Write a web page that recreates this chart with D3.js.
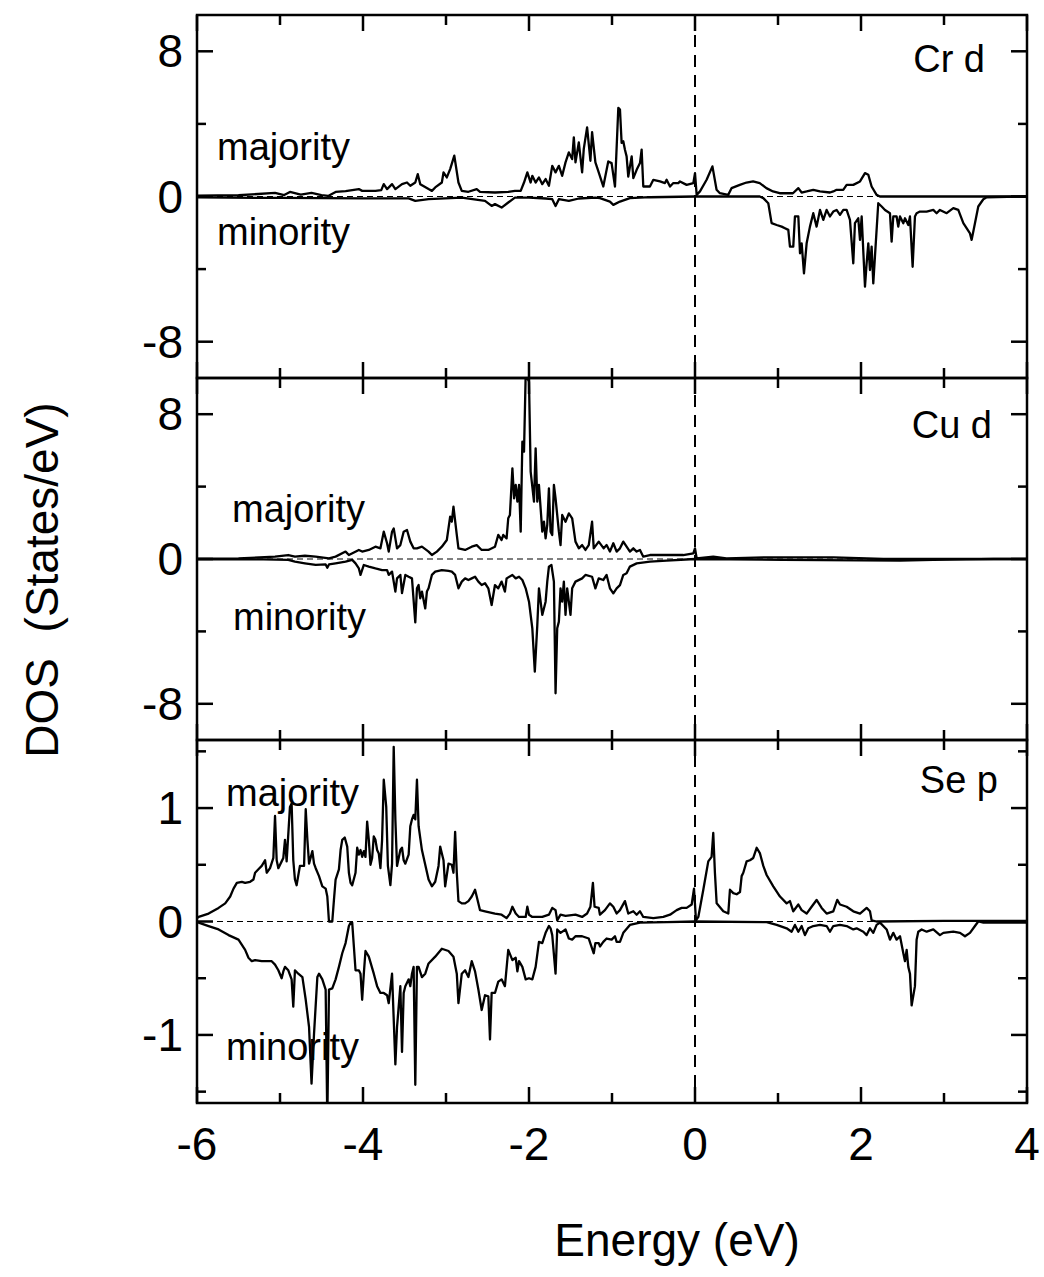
<!DOCTYPE html>
<html><head><meta charset="utf-8">
<script src="https://cdn.jsdelivr.net/npm/d3@7/dist/d3.min.js"></script>
<style>
html,body{margin:0;padding:0;background:#fff;}
text{font-family:"Liberation Sans",Arial,Helvetica,sans-serif;fill:#000;}
</style></head>
<body>
<svg id="chart" width="1044" height="1277"></svg>
<script>
// ---------- DATA (Energy in eV, DOS in States/eV) ----------
const xTicks = [-6,-5,-4,-3,-2,-1,0,1,2,3,4];
const xTickLabels = ["-6","-4","-2","0","2","4"];
const panelNames = ["Cr d","Cu d","Se p"];
const yDomains = [[-10,10],[-10,10],[-1.6,1.6]];
const yTicksDM = [-8,-4,0,4,8];
const yLabelsDM = ["-8","0","8"];
const yTicksSe = [-1.5,-1,-0.5,0,0.5,1,1.5];
const yLabelsSe = ["-1","0","1"];

const crMaj = [[-6.0,0.05],[-5.5,0.07],[-5.06,0.2],[-4.95,0.08],[-4.88,0.25],[-4.75,0.1],[-4.62,0.2],[-4.5,0.08],[-4.42,0.03],[-4.33,0.25],[-4.21,0.3],[-4.05,0.41],[-4.01,0.31],[-3.85,0.31],[-3.78,0.35],[-3.75,0.68],[-3.71,0.41],[-3.65,0.68],[-3.61,0.41],[-3.53,0.68],[-3.47,0.77],[-3.43,0.59],[-3.37,0.77],[-3.34,1.23],[-3.31,0.68],[-3.21,0.41],[-3.17,0.31],[-3.13,0.5],[-3.05,0.77],[-3.03,1.33],[-2.99,1.05],[-2.95,1.51],[-2.90,2.25],[-2.85,0.77],[-2.81,0.31],[-2.73,0.26],[-2.63,0.41],[-2.59,0.26],[-2.41,0.22],[-2.25,0.26],[-2.17,0.31],[-2.10,0.31],[-2.06,0.77],[-2.02,1.33],[-1.98,0.77],[-1.96,1.14],[-1.92,0.77],[-1.88,1.05],[-1.84,0.68],[-1.80,0.96],[-1.76,0.59],[-1.72,1.69],[-1.68,1.33],[-1.64,1.69],[-1.60,1.14],[-1.56,1.88],[-1.52,2.43],[-1.48,2.06],[-1.46,3.26],[-1.44,1.88],[-1.40,2.98],[-1.36,1.33],[-1.34,2.62],[-1.30,3.81],[-1.26,1.97],[-1.24,3.54],[-1.20,1.88],[-1.16,1.33],[-1.12,0.77],[-1.105,0.55],[-1.045,1.93],[-1.005,1.84],[-0.964,0.55],[-0.924,4.88],[-0.904,4.79],[-0.884,2.95],[-0.864,3.04],[-0.844,2.58],[-0.824,2.21],[-0.804,1.10],[-0.763,2.21],[-0.743,1.01],[-0.703,1.47],[-0.663,1.84],[-0.643,2.58],[-0.623,0.55],[-0.543,0.55],[-0.502,0.92],[-0.422,0.83],[-0.362,0.74],[-0.342,0.92],[-0.301,0.55],[-0.261,0.74],[-0.201,0.74],[-0.181,0.83],[-0.101,0.64],[-0.02,0.74],[0.0,1.29],[0.02,0.09],[0.06,0.28],[0.14,0.92],[0.21,1.66],[0.26,0.37],[0.30,0.18],[0.40,0.09],[0.44,0.46],[0.54,0.64],[0.62,0.77],[0.70,0.83],[0.78,0.74],[0.86,0.46],[0.94,0.28],[1.02,0.18],[1.18,0.18],[1.245,0.46],[1.285,0.22],[1.345,0.28],[1.425,0.37],[1.505,0.28],[1.626,0.22],[1.666,0.28],[1.706,0.37],[1.786,0.37],[1.827,0.64],[1.907,0.64],[1.988,0.83],[2.048,1.29],[2.088,1.20],[2.128,0.55],[2.188,0.09],[2.228,0.0],[4.0,0.0]];

const crMin = [[-6.0,-0.05],[-5.0,-0.08],[-4.0,-0.1],[-3.45,-0.1],[-3.37,-0.24],[-3.21,-0.15],[-2.81,-0.06],[-2.53,-0.24],[-2.45,-0.52],[-2.41,-0.42],[-2.33,-0.61],[-2.25,-0.33],[-2.17,-0.06],[-2.00,-0.06],[-1.80,-0.11],[-1.72,-0.15],[-1.68,-0.52],[-1.64,-0.15],[-1.52,-0.24],[-1.40,-0.11],[-1.20,-0.06],[-1.145,-0.09],[-1.025,-0.28],[-0.984,-0.46],[-0.904,-0.28],[-0.784,-0.09],[-0.543,-0.04],[0,0],[0.78,0],[0.823,-0.09],[0.883,-0.37],[0.923,-1.47],[0.984,-1.57],[1.044,-1.66],[1.084,-1.75],[1.124,-1.84],[1.144,-2.76],[1.184,-2.76],[1.204,-1.10],[1.245,-1.10],[1.265,-3.13],[1.285,-2.58],[1.313,-4.24],[1.345,-2.58],[1.385,-1.66],[1.425,-0.92],[1.465,-1.66],[1.506,-0.74],[1.546,-1.29],[1.586,-0.74],[1.626,-1.10],[1.666,-0.83],[1.706,-0.74],[1.747,-1.01],[1.787,-0.74],[1.827,-0.74],[1.867,-1.29],[1.907,-3.68],[1.927,-1.47],[1.967,-1.20],[1.988,-2.39],[2.008,-1.10],[2.048,-4.97],[2.068,-3.68],[2.088,-2.58],[2.108,-4.05],[2.128,-2.76],[2.148,-4.79],[2.168,-3.31],[2.208,-0.37],[2.249,-0.55],[2.289,-0.74],[2.349,-0.92],[2.369,-2.49],[2.389,-1.10],[2.429,-1.10],[2.449,-1.66],[2.470,-1.10],[2.510,-1.47],[2.530,-1.20],[2.570,-1.57],[2.590,-1.10],[2.622,-3.87],[2.650,-1.10],[2.670,-0.92],[2.710,-0.83],[2.791,-0.83],[2.871,-0.74],[2.911,-0.92],[2.951,-0.74],[3.032,-0.92],[3.112,-0.64],[3.172,-0.74],[3.233,-1.47],[3.313,-2.03],[3.333,-2.39],[3.373,-1.47],[3.413,-0.55],[3.474,-0.15],[3.514,-0.04],[4.0,0]];

const cuMaj = [[-6.0,0.02],[-5.5,0.03],[-5.06,0.13],[-4.90,0.22],[-4.82,0.13],[-4.70,0.18],[-4.57,0.13],[-4.41,0.04],[-4.33,0.13],[-4.21,0.41],[-4.17,0.22],[-4.05,0.50],[-4.01,0.41],[-3.93,0.50],[-3.85,0.68],[-3.79,0.59],[-3.75,1.51],[-3.71,0.87],[-3.69,0.41],[-3.65,1.51],[-3.63,1.69],[-3.59,0.59],[-3.55,0.77],[-3.51,1.51],[-3.47,1.60],[-3.43,0.96],[-3.39,0.59],[-3.35,0.59],[-3.29,0.68],[-3.21,0.41],[-3.17,0.22],[-3.11,0.41],[-3.05,0.68],[-2.99,1.05],[-2.95,2.34],[-2.93,2.06],[-2.91,2.89],[-2.87,1.33],[-2.85,0.59],[-2.77,0.50],[-2.69,0.68],[-2.63,0.77],[-2.57,0.50],[-2.49,0.50],[-2.41,0.68],[-2.37,1.33],[-2.33,1.05],[-2.31,1.33],[-2.27,1.14],[-2.25,2.25],[-2.23,2.43],[-2.20,5.01],[-2.18,3.35],[-2.16,4.09],[-2.14,3.17],[-2.12,4.09],[-2.10,1.51],[-2.08,6.48],[-2.06,5.93],[-2.04,10.2],[-2.00,9.8],[-1.98,4.83],[-1.94,3.17],[-1.92,6.11],[-1.90,3.17],[-1.88,4.09],[-1.84,1.51],[-1.82,2.06],[-1.80,1.14],[-1.78,1.88],[-1.76,3.90],[-1.74,1.51],[-1.72,1.33],[-1.70,4.09],[-1.68,3.35],[-1.64,1.51],[-1.62,0.77],[-1.60,2.43],[-1.56,2.06],[-1.52,2.52],[-1.48,2.25],[-1.44,0.96],[-1.40,0.59],[-1.36,0.77],[-1.32,0.50],[-1.28,0.77],[-1.24,2.06],[-1.22,0.59],[-1.16,0.96],[-1.10,0.59],[-1.065,0.77],[-1.025,0.41],[-0.984,0.87],[-0.944,0.41],[-0.904,0.59],[-0.864,0.96],[-0.824,0.68],[-0.784,0.41],[-0.743,0.59],[-0.703,0.41],[-0.663,0.50],[-0.623,0.13],[-0.543,0.22],[-0.342,0.22],[-0.141,0.22],[-0.02,0.31],[0.0,0.59],[0.02,0.04],[0.22,0.13],[0.38,0.04],[0.86,0.09],[1.67,0.09],[2.27,0.0],[4.0,0.0]];

const cuMin = [[-6.0,-0.02],[-5.2,-0.02],[-4.90,-0.05],[-4.82,-0.15],[-4.70,-0.24],[-4.57,-0.33],[-4.45,-0.30],[-4.43,-0.48],[-4.41,-0.30],[-4.33,-0.24],[-4.21,-0.15],[-4.13,-0.05],[-4.09,-0.24],[-4.05,-0.52],[-4.03,-0.88],[-3.99,-0.33],[-3.93,-0.42],[-3.85,-0.52],[-3.77,-0.61],[-3.71,-0.61],[-3.69,-0.88],[-3.65,-0.70],[-3.61,-1.80],[-3.59,-1.07],[-3.55,-0.88],[-3.53,-1.88],[-3.49,-0.88],[-3.45,-0.98],[-3.41,-1.07],[-3.37,-3.50],[-3.35,-1.62],[-3.33,-1.44],[-3.31,-2.17],[-3.29,-1.80],[-3.25,-2.73],[-3.23,-1.80],[-3.21,-1.62],[-3.17,-0.88],[-3.13,-0.70],[-3.05,-0.61],[-2.97,-0.66],[-2.93,-0.70],[-2.89,-0.88],[-2.85,-1.62],[-2.81,-1.25],[-2.77,-1.07],[-2.73,-1.16],[-2.69,-1.07],[-2.65,-0.98],[-2.61,-1.25],[-2.57,-1.44],[-2.53,-1.34],[-2.49,-1.62],[-2.45,-2.54],[-2.41,-1.44],[-2.37,-1.62],[-2.33,-1.25],[-2.29,-1.80],[-2.27,-1.07],[-2.20,-0.88],[-2.16,-1.07],[-2.12,-0.98],[-2.08,-1.16],[-2.04,-1.62],[-2.00,-2.36],[-1.96,-3.83],[-1.93,-6.22],[-1.90,-3.65],[-1.88,-1.62],[-1.84,-3.09],[-1.80,-2.36],[-1.78,-1.25],[-1.76,-0.42],[-1.73,-0.33],[-1.70,-1.25],[-1.68,-7.42],[-1.66,-3.83],[-1.64,-3.46],[-1.62,-1.62],[-1.60,-2.36],[-1.58,-1.25],[-1.56,-3.09],[-1.54,-1.62],[-1.50,-3.09],[-1.48,-1.62],[-1.44,-1.25],[-1.36,-1.07],[-1.32,-0.88],[-1.24,-0.98],[-1.20,-1.62],[-1.16,-1.07],[-1.105,-1.16],[-1.065,-0.88],[-1.025,-1.62],[-0.984,-1.90],[-0.944,-1.62],[-0.904,-1.44],[-0.864,-0.88],[-0.824,-0.79],[-0.784,-0.42],[-0.703,-0.24],[-0.543,-0.15],[-0.342,-0.09],[0,0],[1.06,-0.05],[2.47,-0.09],[2.87,-0.05],[3.27,-0.02],[3.6,0],[4.0,0]];

const seMaj = [[-6.0,0.03],[-5.98,0.04],[-5.86,0.07],[-5.74,0.12],[-5.66,0.16],[-5.60,0.22],[-5.56,0.29],[-5.52,0.34],[-5.46,0.35],[-5.42,0.34],[-5.36,0.35],[-5.32,0.37],[-5.30,0.43],[-5.26,0.46],[-5.22,0.49],[-5.18,0.54],[-5.16,0.43],[-5.12,0.47],[-5.08,0.56],[-5.06,0.93],[-5.04,0.54],[-5.02,0.47],[-4.98,0.53],[-4.96,0.56],[-4.94,0.72],[-4.92,0.53],[-4.88,1.01],[-4.86,1.04],[-4.84,0.54],[-4.82,0.37],[-4.80,0.32],[-4.76,0.49],[-4.71,0.49],[-4.69,0.99],[-4.67,0.72],[-4.65,0.51],[-4.61,0.62],[-4.59,0.51],[-4.57,0.47],[-4.53,0.40],[-4.49,0.31],[-4.45,0.29],[-4.43,0.22],[-4.41,0.0],[-4.37,0.0],[-4.35,0.19],[-4.33,0.37],[-4.29,0.46],[-4.27,0.63],[-4.25,0.72],[-4.22,0.74],[-4.19,0.66],[-4.17,0.43],[-4.15,0.34],[-4.13,0.32],[-4.09,0.43],[-4.07,0.65],[-4.05,0.59],[-4.03,0.63],[-4.01,0.57],[-3.99,0.62],[-3.97,0.57],[-3.95,0.88],[-3.93,0.72],[-3.91,0.50],[-3.89,0.56],[-3.87,0.75],[-3.85,0.72],[-3.83,0.63],[-3.81,0.60],[-3.79,0.47],[-3.77,0.72],[-3.75,1.25],[-3.72,1.01],[-3.70,0.49],[-3.67,0.32],[-3.65,0.51],[-3.63,1.54],[-3.61,0.90],[-3.59,0.49],[-3.55,0.63],[-3.53,0.65],[-3.51,0.54],[-3.49,0.51],[-3.45,0.59],[-3.43,0.84],[-3.41,0.90],[-3.39,0.94],[-3.37,0.90],[-3.35,1.25],[-3.33,0.84],[-3.29,0.63],[-3.25,0.50],[-3.21,0.37],[-3.17,0.31],[-3.13,0.35],[-3.09,0.49],[-3.07,0.66],[-3.05,0.60],[-3.03,0.54],[-3.01,0.31],[-2.97,0.51],[-2.93,0.50],[-2.91,0.43],[-2.89,0.79],[-2.87,0.43],[-2.85,0.18],[-2.81,0.16],[-2.77,0.16],[-2.73,0.18],[-2.69,0.22],[-2.67,0.25],[-2.65,0.28],[-2.63,0.22],[-2.59,0.10],[-2.53,0.09],[-2.41,0.07],[-2.33,0.06],[-2.27,0.03],[-2.23,0.07],[-2.20,0.13],[-2.16,0.07],[-2.12,0.04],[-2.04,0.04],[-2.02,0.13],[-2.00,0.06],[-1.96,0.04],[-1.84,0.04],[-1.76,0.06],[-1.72,0.12],[-1.68,0.10],[-1.66,0.01],[-1.62,0.06],[-1.56,0.05],[-1.44,0.06],[-1.36,0.04],[-1.30,0.07],[-1.26,0.13],[-1.23,0.34],[-1.21,0.13],[-1.16,0.12],[-1.145,0.06],[-1.085,0.10],[-1.025,0.16],[-0.984,0.13],[-0.944,0.07],[-0.904,0.10],[-0.844,0.18],[-0.804,0.07],[-0.743,0.09],[-0.703,0.06],[-0.663,0.09],[-0.623,0.04],[-0.502,0.03],[-0.382,0.04],[-0.301,0.06],[-0.221,0.10],[-0.161,0.12],[-0.101,0.12],[-0.040,0.15],[-0.012,0.29],[0.012,0.01],[0.040,0.04],[0.100,0.28],[0.160,0.53],[0.200,0.57],[0.220,0.78],[0.240,0.43],[0.261,0.16],[0.341,0.09],[0.401,0.07],[0.421,0.28],[0.461,0.25],[0.502,0.24],[0.542,0.26],[0.562,0.40],[0.582,0.43],[0.622,0.53],[0.662,0.54],[0.702,0.56],[0.743,0.65],[0.783,0.60],[0.823,0.49],[0.863,0.41],[0.943,0.31],[1.024,0.22],[1.104,0.16],[1.144,0.18],[1.184,0.09],[1.245,0.15],[1.285,0.10],[1.345,0.07],[1.405,0.13],[1.465,0.19],[1.526,0.12],[1.586,0.07],[1.666,0.09],[1.714,0.19],[1.747,0.15],[1.827,0.13],[1.907,0.09],[1.988,0.07],[2.068,0.12],[2.108,0.09],[2.128,0.01],[2.188,0.0],[3.0,0.005],[4.0,0.005]];

const seMin = [[-6.0,-0.005],[-5.98,-0.01],[-5.86,-0.04],[-5.74,-0.07],[-5.62,-0.12],[-5.50,-0.16],[-5.42,-0.25],[-5.38,-0.32],[-5.34,-0.35],[-5.30,-0.34],[-5.22,-0.35],[-5.10,-0.35],[-5.06,-0.38],[-5.02,-0.43],[-4.98,-0.50],[-4.96,-0.44],[-4.94,-0.40],[-4.90,-0.43],[-4.86,-0.51],[-4.84,-0.75],[-4.82,-0.43],[-4.78,-0.46],[-4.73,-0.49],[-4.69,-0.69],[-4.65,-0.93],[-4.62,-1.43],[-4.59,-0.99],[-4.55,-0.49],[-4.53,-0.46],[-4.49,-0.51],[-4.45,-0.60],[-4.43,-1.75],[-4.41,-0.60],[-4.37,-0.59],[-4.33,-0.51],[-4.29,-0.40],[-4.25,-0.28],[-4.21,-0.19],[-4.17,-0.04],[-4.15,-0.01],[-4.13,-0.01],[-4.11,-0.22],[-4.09,-0.43],[-4.05,-0.43],[-4.03,-0.46],[-4.01,-0.69],[-3.99,-0.46],[-3.97,-0.26],[-3.93,-0.31],[-3.87,-0.46],[-3.83,-0.57],[-3.79,-0.63],[-3.75,-0.63],[-3.71,-0.65],[-3.69,-0.72],[-3.65,-0.46],[-3.61,-1.26],[-3.59,-0.93],[-3.55,-0.57],[-3.53,-1.15],[-3.51,-0.63],[-3.49,-0.57],[-3.45,-0.51],[-3.43,-0.57],[-3.41,-0.46],[-3.39,-0.40],[-3.37,-1.44],[-3.35,-0.40],[-3.33,-0.40],[-3.29,-0.49],[-3.25,-0.46],[-3.21,-0.37],[-3.13,-0.31],[-3.05,-0.24],[-2.97,-0.26],[-2.91,-0.31],[-2.87,-0.46],[-2.85,-0.72],[-2.81,-0.46],[-2.77,-0.43],[-2.73,-0.49],[-2.69,-0.35],[-2.65,-0.44],[-2.61,-0.60],[-2.57,-0.78],[-2.53,-0.65],[-2.49,-0.66],[-2.47,-1.04],[-2.45,-0.63],[-2.41,-0.63],[-2.37,-0.53],[-2.33,-0.51],[-2.29,-0.57],[-2.25,-0.25],[-2.20,-0.34],[-2.16,-0.32],[-2.14,-0.44],[-2.12,-0.35],[-2.08,-0.40],[-2.04,-0.51],[-2.00,-0.50],[-1.96,-0.51],[-1.92,-0.40],[-1.88,-0.18],[-1.84,-0.19],[-1.80,-0.10],[-1.76,-0.04],[-1.74,-0.06],[-1.72,-0.12],[-1.68,-0.46],[-1.66,-0.07],[-1.62,-0.10],[-1.56,-0.07],[-1.52,-0.15],[-1.48,-0.16],[-1.44,-0.13],[-1.36,-0.13],[-1.28,-0.15],[-1.22,-0.28],[-1.20,-0.19],[-1.16,-0.19],[-1.145,-0.22],[-1.105,-0.18],[-1.065,-0.15],[-1.004,-0.16],[-0.964,-0.13],[-0.944,-0.18],[-0.904,-0.18],[-0.864,-0.10],[-0.784,-0.03],[-0.663,-0.01],[-0.342,-0.006],[0,0],[0.863,-0.006],[0.984,-0.03],[1.104,-0.06],[1.164,-0.09],[1.204,-0.03],[1.245,-0.09],[1.285,-0.04],[1.325,-0.12],[1.365,-0.06],[1.425,-0.04],[1.506,-0.03],[1.586,-0.04],[1.626,-0.09],[1.666,-0.04],[1.747,-0.03],[1.827,-0.04],[1.907,-0.07],[1.947,-0.06],[2.028,-0.09],[2.068,-0.12],[2.108,-0.06],[2.148,-0.10],[2.188,-0.03],[2.229,-0.01],[2.309,-0.07],[2.349,-0.16],[2.389,-0.10],[2.429,-0.16],[2.470,-0.13],[2.510,-0.28],[2.530,-0.35],[2.550,-0.25],[2.570,-0.40],[2.590,-0.46],[2.610,-0.74],[2.650,-0.57],[2.670,-0.16],[2.690,-0.09],[2.731,-0.07],[2.791,-0.09],[2.871,-0.07],[2.951,-0.12],[2.992,-0.10],[3.112,-0.09],[3.193,-0.10],[3.253,-0.13],[3.313,-0.10],[3.373,-0.04],[3.413,0.0],[3.474,-0.01],[4.0,-0.01]];

const series = [[crMaj,crMin],[cuMaj,cuMin],[seMaj,seMin]];

// ---------- LAYOUT ----------
const svg = d3.select("#chart");
const L = 197, R = 1027;
const panelTops = [15, 378, 740];
const panelBots = [378, 740, 1103];
const x = d3.scaleLinear().domain([-6,4]).range([L,R]);
const FONT_TICK = 46, FONT_IN = 38, FONT_TITLE = 46;

const labelPos = [
  {maj:[217,160], min:[217,245], name:[985,72]},
  {maj:[232,522], min:[233,630], name:[992,438]},
  {maj:[226,806], min:[226,1060], name:[998,793]}
];

panelTops.forEach((top,i)=>{
  const bot = panelBots[i];
  const y = d3.scaleLinear().domain(yDomains[i]).range([bot,top]);
  const g = svg.append("g");
  const cid = "clip"+i;
  svg.append("clipPath").attr("id",cid).append("rect")
    .attr("x",L).attr("y",top).attr("width",R-L).attr("height",bot-top);

  // zero dashed line
  g.append("line").attr("x1",L).attr("x2",R).attr("y1",y(0)).attr("y2",y(0))
    .attr("stroke","#000").attr("stroke-width",1.2).attr("stroke-dasharray","6,4");

  // curves
  const line = d3.line().x(d=>x(d[0])).y(d=>y(d[1]));
  series[i].forEach(s=>{
    g.append("path").datum(s).attr("d",line).attr("fill","none")
      .attr("stroke","#000").attr("stroke-width",2.3).attr("stroke-linejoin","round")
      .attr("clip-path","url(#"+cid+")");
  });

  // ticks
  const yt = i<2 ? yTicksDM : yTicksSe;
  const yl = i<2 ? yLabelsDM : yLabelsSe;
  const ylNum = yl.map(Number);
  xTicks.forEach(v=>{
    const len = (v%2===0)?16:10;
    g.append("line").attr("x1",x(v)).attr("x2",x(v)).attr("y1",top).attr("y2",top+len)
      .attr("stroke","#000").attr("stroke-width",2.5);
    g.append("line").attr("x1",x(v)).attr("x2",x(v)).attr("y1",bot).attr("y2",bot-len)
      .attr("stroke","#000").attr("stroke-width",2.5);
  });
  yt.forEach(v=>{
    const len = ylNum.includes(v)?16:9;
    g.append("line").attr("x1",L).attr("x2",L+len).attr("y1",y(v)).attr("y2",y(v))
      .attr("stroke","#000").attr("stroke-width",2.5);
    g.append("line").attr("x1",R).attr("x2",R-len).attr("y1",y(v)).attr("y2",y(v))
      .attr("stroke","#000").attr("stroke-width",2.5);
  });
  yl.forEach(v=>{
    g.append("text").attr("x",183).attr("y",y(Number(v))).attr("dy","0.35em")
      .attr("text-anchor","end").attr("font-size",FONT_TICK).text(v);
  });

  // frame
  g.append("rect").attr("x",L).attr("y",top).attr("width",R-L).attr("height",bot-top)
    .attr("fill","none").attr("stroke","#000").attr("stroke-width",2.5);

  // labels
  const lp = labelPos[i];
  g.append("text").attr("x",lp.maj[0]).attr("y",lp.maj[1]).attr("font-size",FONT_IN).text("majority");
  g.append("text").attr("x",lp.min[0]).attr("y",lp.min[1]).attr("font-size",FONT_IN).text("minority");
  g.append("text").attr("x",lp.name[0]).attr("y",lp.name[1]).attr("text-anchor","end")
    .attr("font-size",FONT_IN).text(panelNames[i]);
});

// vertical dashed line at Fermi level
svg.append("line").attr("x1",x(0)).attr("x2",x(0)).attr("y1",panelTops[0]).attr("y2",panelBots[2])
  .attr("stroke","#000").attr("stroke-width",2).attr("stroke-dasharray","12,8");

// x tick labels
xTickLabels.forEach(v=>{
  svg.append("text").attr("x",x(Number(v))).attr("y",1160).attr("text-anchor","middle")
    .attr("font-size",FONT_TICK).text(v);
});

// axis titles
svg.append("text").attr("x",677).attr("y",1256).attr("text-anchor","middle")
  .attr("font-size",FONT_TITLE).text("Energy (eV)");
svg.append("text").attr("transform","translate(58,580) rotate(-90)").attr("text-anchor","middle")
  .attr("font-size",FONT_TITLE).style("white-space","pre").text("DOS  (States/eV)");
</script>
</body></html>
